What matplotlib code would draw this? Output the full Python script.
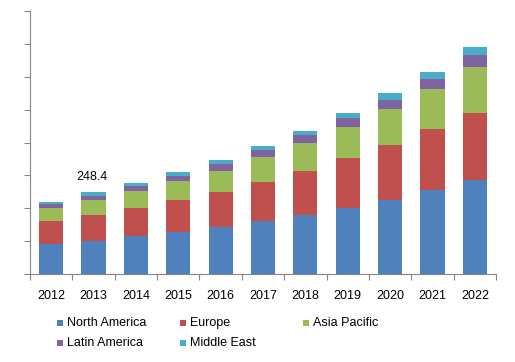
import matplotlib
matplotlib.use("Agg")
import matplotlib.pyplot as plt
from matplotlib.patches import Rectangle
import numpy as np

plt.rcParams['font.family'] = ['Liberation Sans', 'DejaVu Sans']

years = ['2012', '2013', '2014', '2015', '2016', '2017', '2018', '2019', '2020', '2021', '2022']
north_america = [92, 102, 116, 129, 143, 161, 180, 201, 226, 256, 285]
europe = [70, 78, 85, 96, 106, 119, 134, 151, 167, 184, 206]
asia_pacific = [39, 45.5, 51, 58, 66, 76, 85, 94, 108, 121, 139]
latin_america = [12, 13.2, 15, 15, 19, 20, 23, 27, 29, 33, 37]
middle_east = [6, 9.7, 9, 12, 13, 14, 13, 16, 19, 21, 24]

names = ['North America', 'Europe', 'Asia Pacific', 'Latin America', 'Middle East']
colors = ['#4F81BD', '#C0504D', '#9BBB59', '#8064A2', '#4BACC6']
series = [north_america, europe, asia_pacific, latin_america, middle_east]

W, H = 515, 362
fig = plt.figure(figsize=(W / 100, H / 100), dpi=100)
ax = fig.add_axes([30 / W, 1 - 274.3 / H, 466 / W, 263.6 / H])

x = np.arange(len(years))
bottom = np.zeros(len(years))
for vals, c in zip(series, colors):
    ax.bar(x, vals, 0.57, bottom=bottom, color=c, linewidth=0)
    bottom += np.array(vals)

# label on 2013 total
ax.annotate('248.4', (1, bottom[1]), xytext=(-1, 7), textcoords='offset points',
            ha='center', va='bottom', fontsize=9)

ax.set_xlim(-0.5, len(years) - 0.5)
ax.set_ylim(0, 800)
ax.set_yticks(np.arange(0, 801, 100))
ax.set_yticklabels([])
ax.set_xticks(np.arange(-0.5, len(years), 1))
ax.set_xticklabels([])
ax.set_xticks(x, minor=True)
ax.set_xticklabels(years, minor=True, fontsize=9)
ax.tick_params(axis='x', which='minor', length=0, pad=11)
ax.tick_params(axis='both', which='major', length=4, color='#868686', width=0.8)

for s in ['top', 'right']:
    ax.spines[s].set_visible(False)
for s in ['left', 'bottom']:
    ax.spines[s].set_color('#868686')
    ax.spines[s].set_linewidth(0.8)

# legend laid out like the original (rows of three)
for i, (name, c) in enumerate(zip(names, colors)):
    col, row = i % 3, i // 3
    px = 57 + 123 * col
    py = 323 + 20 * row
    fig.add_artist(Rectangle((px / W, 1 - (py + 3) / H), 6 / W, 6 / H,
                             transform=fig.transFigure, color=c, linewidth=0))
    fig.text((px + 10) / W, 1 - py / H, name, fontsize=9, va='center', ha='left')

fig.savefig('out.png', dpi=100)
